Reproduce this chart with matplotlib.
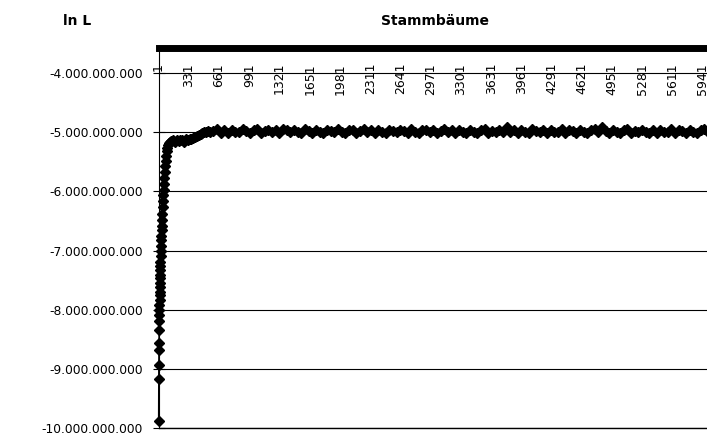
import matplotlib
matplotlib.use("Agg")
import matplotlib.pyplot as plt
import numpy as np

plt.rcParams['font.family'] = ['DejaVu Sans']

SCALE = 1e9  # values below are in billions (ln L / 1e9)

# --- early climb: category index and ln L value ---
early_cats = [1, 2, 3, 4, 5, 6, 7, 8, 9, 10, 11, 12, 13, 14, 15, 16, 17, 18, 19, 20,
              22, 24, 26, 28, 30, 33, 36, 39, 42, 45, 48, 51, 55, 59, 63, 67, 72, 77, 83, 90,
              98, 107, 117, 128, 140, 160, 180, 200, 220, 240, 260, 280, 300, 320, 340, 360,
              380, 400, 420, 440, 460, 480, 500, 520, 540, 560]
early_vals = [-9.88, -9.18, -8.94, -8.68, -8.56, -8.34, -8.19, -8.09, -8.01, -7.92,
              -7.84, -7.76, -7.70, -7.62, -7.55, -7.47, -7.41, -7.33, -7.26, -7.20,
              -7.10, -7.00, -6.92, -6.83, -6.75, -6.66, -6.58, -6.48, -6.38, -6.27,
              -6.17, -6.07, -5.97, -5.87, -5.77, -5.68, -5.58, -5.49, -5.40, -5.32,
              -5.26, -5.21, -5.18, -5.16, -5.15, -5.14, -5.16, -5.13, -5.15, -5.13,
              -5.14, -5.16, -5.12, -5.14, -5.12, -5.11, -5.10, -5.08, -5.06, -5.04,
              -5.03, -5.01, -5.00, -4.99, -4.98, -4.99]

# --- plateau: sampled categories and ln L values ---
plateau_cats = [600, 640, 680, 720, 760, 800, 840, 880, 920, 960,
                1000, 1040, 1080, 1120, 1160, 1200, 1240, 1280, 1320, 1360,
                1400, 1440, 1480, 1520, 1560, 1600, 1640, 1680, 1720, 1760,
                1800, 1840, 1880, 1920, 1960, 2000, 2040, 2080, 2120, 2160,
                2200, 2240, 2280, 2320, 2360, 2400, 2440, 2480, 2520, 2560,
                2600, 2640, 2680, 2720, 2760, 2800, 2840, 2880, 2920, 2960,
                3000, 3040, 3080, 3120, 3160, 3200, 3240, 3280, 3320, 3360,
                3400, 3440, 3480, 3520, 3560, 3600, 3640, 3680, 3720, 3760,
                3800, 3840, 3880, 3920, 3960, 4000, 4040, 4080, 4120, 4160,
                4200, 4240, 4280, 4320, 4360, 4400, 4440, 4480, 4520, 4560,
                4600, 4640, 4680, 4720, 4760, 4800, 4840, 4880, 4920, 4960,
                5000, 5040, 5080, 5120, 5160, 5200, 5240, 5280, 5320, 5360,
                5400, 5440, 5480, 5520, 5560, 5600, 5640, 5680, 5720, 5760,
                5800, 5840, 5880, 5920, 5960, 6000]
plateau_vals = [-4.98, -4.95, -5.01, -4.97, -5.02, -4.96, -4.99, -5.00, -4.94, -4.98,
                -5.01, -4.97, -4.95, -5.02, -4.98, -4.96, -5.00, -4.97, -5.01, -4.95,
                -4.97, -5.00, -4.96, -4.99, -5.02, -4.94, -4.98, -5.01, -4.97, -4.99,
                -5.02, -4.96, -4.98, -5.00, -4.95, -4.99, -5.01, -4.97, -4.96, -5.02,
                -4.98, -4.95, -5.00, -4.97, -5.01, -4.96, -4.99, -5.02, -4.97, -4.98,
                -5.00, -4.96, -4.98, -5.02, -4.95, -4.99, -5.01, -4.97, -4.96, -5.00,
                -4.97, -5.02, -4.98, -4.95, -5.00, -4.97, -5.01, -4.96, -4.99, -5.02,
                -4.96, -4.99, -5.01, -4.97, -4.95, -5.02, -4.98, -5.00, -4.96, -4.99,
                -4.92, -5.00, -4.97, -5.02, -4.96, -4.99, -5.01, -4.95, -4.98, -5.00,
                -4.97, -5.02, -4.96, -4.99, -5.00, -4.95, -5.01, -4.97, -4.98, -5.02,
                -4.96, -4.99, -5.01, -4.97, -4.95, -5.00, -4.92, -4.98, -5.02, -4.96,
                -4.99, -5.01, -4.97, -4.95, -5.02, -4.98, -5.00, -4.96, -4.99, -5.01,
                -4.97, -5.02, -4.96, -4.99, -5.00, -4.95, -5.01, -4.97, -4.98, -5.02,
                -4.96, -4.99, -5.01, -4.97, -4.95, -5.00]

x_tick_cats = [1, 331, 661, 991, 1321, 1651, 1981, 2311, 2641, 2971, 3301,
               3631, 3961, 4291, 4621, 4951, 5281, 5611, 5941]
y_tick_vals = [-4e9, -5e9, -6e9, -7e9, -8e9, -9e9, -10e9]

y_title = "ln L"
x_title = "Stammbäume"

cats = np.array(early_cats + plateau_cats)
vals = np.array(early_vals + plateau_vals) * SCALE

W, H = 707, 436
fig = plt.figure(figsize=(W / 100, H / 100), dpi=100)
ax_left, ax_top, ax_bottom = 158.5, 48.5, 428.0
ax = fig.add_axes([ax_left / W, (H - ax_bottom) / H, (W - ax_left) / W, (ax_bottom - ax_top) / H])

ax.plot(cats, vals, color='black', lw=1.0, marker='D', ms=5,
        markerfacecolor='black', markeredgecolor='black', clip_on=False, zorder=3)

px_per_cat = 0.0916
ax.set_xlim(0, (W - ax_left) / px_per_cat)
px_per_unit = (ax_bottom - 73) / 6e9
ax.set_ylim(-10e9, -4e9 + (73 - ax_top) / px_per_unit)

ax.set_yticks(y_tick_vals)
ax.set_yticklabels([f"{int(v):,}".replace(",", ".") for v in y_tick_vals])
ax.yaxis.grid(True, color='black', lw=0.8)
ax.set_axisbelow(True)
ax.tick_params(axis='y', direction='inout', length=8, width=0.8, pad=7,
               labelsize=8.8, colors='black')

ax.set_xticks(x_tick_cats)
ax.set_xticklabels([str(c) for c in x_tick_cats])
ax.tick_params(axis='x', bottom=False, labelbottom=False, top=True, labeltop=True,
               length=0, pad=-10.4, labelrotation=90, labelsize=9)
for t in ax.xaxis.get_major_ticks():
    t.label2.set_verticalalignment('top')

ax.spines['top'].set_linewidth(5)
ax.spines['left'].set_linewidth(0.8)
ax.spines['bottom'].set_linewidth(1.0)
ax.spines['right'].set_visible(False)

fig.text(77 / W, 1 - 25 / H, y_title, ha='center', va='baseline',
         fontweight='bold', fontsize=10)
fig.text(435 / W, 1 - 25 / H, x_title, ha='center', va='baseline',
         fontweight='bold', fontsize=10)

fig.savefig("out.png", dpi=100)
